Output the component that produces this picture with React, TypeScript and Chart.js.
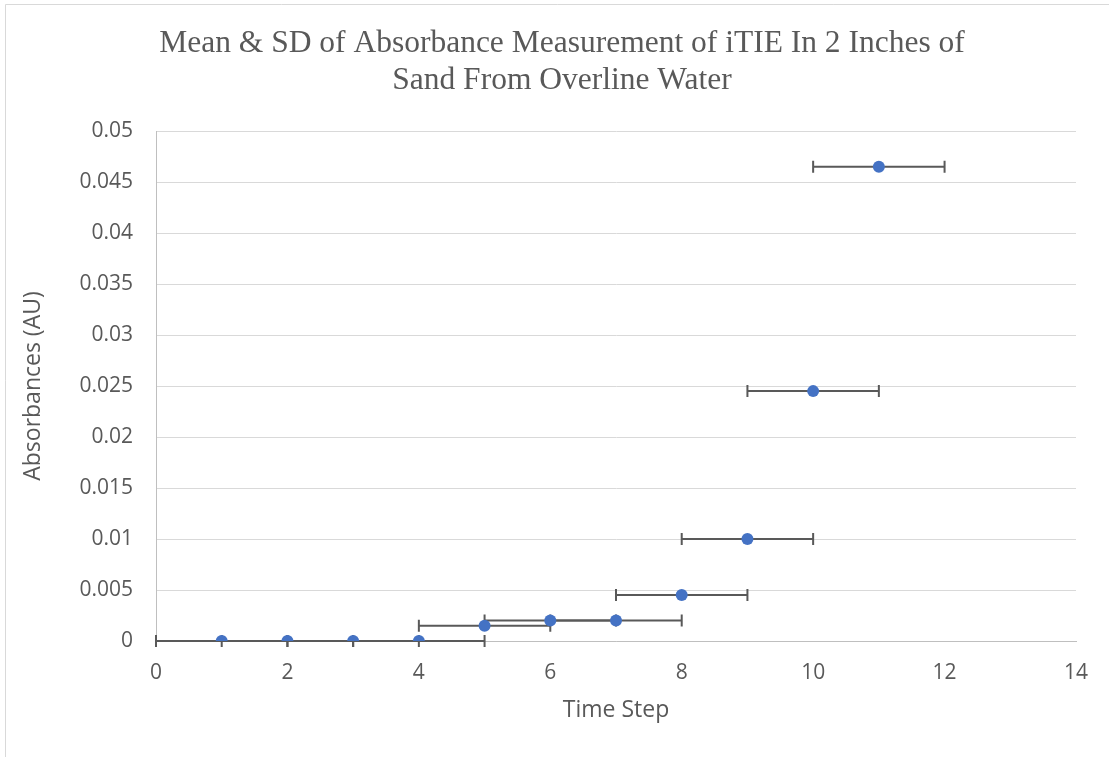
import React, { useEffect, useRef } from "react";
import { Chart, registerables } from "chart.js";

Chart.register(...registerables);

const timeSteps = [1, 2, 3, 4, 5, 6, 7, 8, 9, 10, 11];
const meanAbsorbance = [0, 0, 0, 0, 0.0015, 0.002, 0.002, 0.0045, 0.01, 0.0245, 0.0465];
const sdTime = [1, 1, 1, 1, 1, 1, 1, 1, 1, 1, 1];
const titleLines = ["Mean & SD of Absorbance Measurement of iTIE In 2 Inches of", "Sand From Overline Water"];

const TEXT = "#595959";

const borderPlugin = {
  id: "frameBorder",
  beforeDraw(chart: any) {
    const ctx = chart.ctx;
    ctx.save();
    ctx.fillStyle = "#ffffff";
    ctx.fillRect(0, 0, chart.width, chart.height);
    ctx.strokeStyle = "#d9d9d9";
    ctx.lineWidth = 1;
    ctx.beginPath();
    ctx.moveTo(5.5, chart.height);
    ctx.lineTo(5.5, 4.5);
    ctx.lineTo(chart.width, 4.5);
    ctx.stroke();
    ctx.restore();
  },
};

const errorBarPlugin = {
  id: "xErrorBars",
  beforeDatasetsDraw(chart: any) {
    const ctx = chart.ctx;
    const xs = chart.scales.x;
    const ys = chart.scales.y;
    ctx.save();
    ctx.strokeStyle = "#595959";
    ctx.lineWidth = 2;
    for (let i = 0; i < timeSteps.length; i++) {
      const y = ys.getPixelForValue(meanAbsorbance[i]);
      const x0 = xs.getPixelForValue(timeSteps[i] - sdTime[i]);
      const x1 = xs.getPixelForValue(timeSteps[i] + sdTime[i]);
      ctx.beginPath();
      ctx.moveTo(x0, y);
      ctx.lineTo(x1, y);
      ctx.moveTo(x0, y - 6);
      ctx.lineTo(x0, y + 6);
      ctx.moveTo(x1, y - 6);
      ctx.lineTo(x1, y + 6);
      ctx.stroke();
    }
    ctx.restore();
  },
};

export default function App() {
  const ref = useRef<HTMLCanvasElement>(null);
  useEffect(() => {
    if (!ref.current) return;
    const chart = new Chart(ref.current, {
      type: "scatter",
      data: {
        datasets: [
          {
            label: "Mean",
            data: timeSteps.map((t, i) => ({ x: t, y: meanAbsorbance[i] })),
            backgroundColor: "#4472C4",
            borderColor: "#4472C4",
            pointRadius: 6,
            pointBorderWidth: 0,
          },
        ],
      },
      options: {
        responsive: false,
        animation: false,
        layout: { padding: { left: 15, right: 0, top: 0, bottom: 0 } },
        plugins: {
          legend: { display: false },
          tooltip: { enabled: false },
          title: {
            display: true,
            text: titleLines,
            color: TEXT,
            font: { family: "Liberation Serif", size: 31.5, weight: "normal", lineHeight: 1.15 },
            padding: { top: 25.9, bottom: 32.7 },
          },
        },
        scales: {
          x: {
            type: "linear",
            min: 0,
            max: 14,
            ticks: { stepSize: 2, color: TEXT, font: { family: "Open Sans", size: 21 }, padding: 19.4 },
            grid: { display: false, drawTicks: false },
            border: { display: true, color: "#bfbfbf", width: 1 },
            title: {
              display: true,
              text: "Time Step",
              color: TEXT,
              font: { family: "Open Sans", size: 23 },
              padding: { top: 0, bottom: 33.2 },
            },
            afterFit(s: any) {
              s.height = 757 - 641;
            },
          },
          y: {
            type: "linear",
            min: 0,
            max: 0.05,
            ticks: {
              stepSize: 0.005,
              color: TEXT,
              font: { family: "Open Sans", size: 21 },
              padding: 23,
              callback: (v: any) => String(parseFloat(Number(v).toFixed(4))),
            },
            grid: { color: "#d9d9d9", drawTicks: false, lineWidth: 1 },
            border: { display: true, color: "#bfbfbf", width: 1 },
            title: {
              display: true,
              text: "Absorbances (AU)",
              color: TEXT,
              font: { family: "Open Sans", size: 23 },
              padding: { top: 4.2, bottom: 0 },
            },
            afterFit(s: any) {
              s.width = 156 - 15;
            },
          },
          yRight: {
            type: "linear",
            position: "right",
            display: true,
            min: 0,
            max: 1,
            ticks: { display: false },
            grid: { display: false, drawOnChartArea: false, drawTicks: false },
            border: { display: false },
            afterFit(s: any) {
              s.width = 1109 - 1076;
            },
          },
        },
      },
      plugins: [borderPlugin, errorBarPlugin],
    });
    return () => chart.destroy();
  }, []);
  return (
    <div style={{ position: "absolute", left: 0, top: 0, width: 1109, height: 757 }}>
      <canvas ref={ref} width={1109} height={757} />
    </div>
  );
}
